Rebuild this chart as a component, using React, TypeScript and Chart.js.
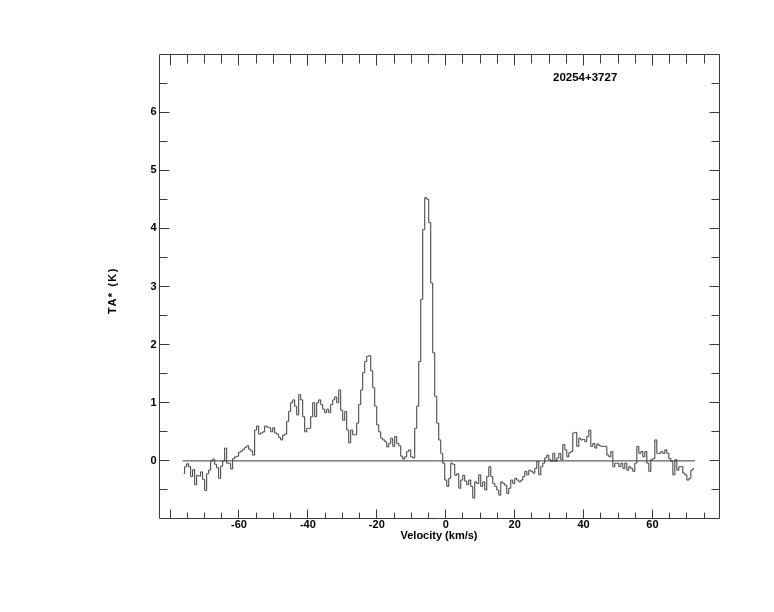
import React, { useEffect, useRef } from "react";
import { Chart, registerables } from "chart.js";

Chart.register(...registerables);

// Spectrum channels (antenna temperature, K), read left to right
const V_START = -76.34; // km/s, left edge of first channel
const CHANNEL_WIDTH = 0.5806; // km/s

const taSegment1 = [
  -0.22, -0.1, -0.05, -0.1, -0.27, -0.15, -0.41, -0.25, -0.26, -0.19,
  -0.32, -0.51, -0.22, -0.16, 0.0, 0.03, -0.06, -0.12, -0.3, -0.09,
  0.0, 0.22, -0.04, -0.04, -0.14, 0.04, 0.07, 0.08, 0.15, 0.17,
  0.2, 0.23, 0.26, 0.2, 0.17, 0.1, 0.53, 0.6, 0.46, 0.48,
  0.5, 0.6, 0.58, 0.57, 0.5, 0.57, 0.48, 0.46, 0.4, 0.36,
  0.44, 0.46, 0.68, 0.85, 1.0, 1.05,
];
const taSegment2 = [
  0.94, 0.79, 1.14, 1.05, 0.76, 0.5, 0.56, 0.56, 0.76, 1.0,
  0.76, 1.0, 1.05, 0.97, 0.89, 0.83, 0.89, 0.83, 0.97, 1.05,
  1.1, 1.0, 1.22, 0.87, 0.7, 0.85, 0.53, 0.31, 0.53, 0.45,
  0.45, 0.65, 0.97, 1.22, 1.52, 1.71, 1.8, 1.81, 1.55, 1.26,
  0.94, 0.62, 0.5, 0.39, 0.36, 0.33, 0.24, 0.3, 0.39, 0.25,
  0.42, 0.3, 0.26, 0.08, 0.03,
];
const taSegment3 = [
  0.07, 0.16, 0.19, 0.07, 0.05, 0.56, 0.94, 1.71, 2.78, 3.98,
  4.53, 4.5, 4.1, 3.06, 1.86, 1.11, 0.65, 0.36, 0.13, -0.04,
  -0.33, -0.44, -0.3, -0.04, -0.06, -0.25, -0.22, -0.47, -0.33, -0.25,
];
const taSegment4 = [
  -0.35, -0.41, -0.33, -0.44, -0.64, -0.36, -0.39, -0.24, -0.44, -0.36,
  -0.5, -0.27, -0.1, -0.27, -0.39, -0.44, -0.5, -0.59, -0.36, -0.39,
  -0.42, -0.56, -0.47, -0.33, -0.39, -0.3, -0.33, -0.36, -0.33, -0.27,
  -0.18, -0.24, -0.16, -0.18, -0.21, -0.13, -0.01, -0.24, -0.1, -0.04,
  0.05, 0.1, 0.02, -0.01, 0.13, -0.01, 0.05, 0.13, 0.02, 0.28,
  0.19, 0.07,
];
const taSegment5 = [
  0.14, 0.16, 0.48, 0.49, 0.25, 0.39, 0.36, 0.37, 0.33, 0.42,
  0.53, 0.25, 0.3, 0.22, 0.29, 0.26, 0.25, 0.25, 0.25, 0.1,
  0.07, 0.16, -0.1, -0.04, -0.04, -0.1, -0.04, -0.13, -0.04, -0.16,
  -0.1, -0.13, -0.18, -0.04, 0.25, 0.13, 0.16, 0.07, 0.16, -0.04,
  -0.18, 0.02, 0.04, 0.36, 0.13, 0.13, 0.16, 0.13, 0.19, 0.13,
  0.04, -0.01, -0.24, 0.02, -0.16, -0.1, -0.1, -0.21, -0.24, -0.33,
  -0.3, -0.16, -0.13,
];
const taValues = [...taSegment1, ...taSegment2, ...taSegment3, ...taSegment4, ...taSegment5];

const xTickValues = [-60, -40, -20, 0, 20, 40, 60];
const yTickValues = [0, 1, 2, 3, 4, 5, 6];
const X_MIN = -83.2;
const X_MAX = 79.3;
const Y_MIN = -1;
const Y_MAX = 7;
const X_MINOR = 5;
const Y_MINOR = 0.5;

const sourceName = "20254+3727";
const xTitle = "Velocity (km/s)";
const yTitle = "TA* (K)";

const FONT = "'Liberation Sans', Arial, Helvetica, sans-serif";
const INK = "#000";
const LINE = "#3a3a3a";

const crisp = (p: number) => Math.round(p - 0.5) + 0.5;

const framePlugin = {
  id: "idlFrame",
  afterDatasetsDraw(chart: any) {
    const { ctx, chartArea: a, scales } = chart;
    const xs = scales.x;
    const ys = scales.y;
    const L = crisp(a.left + 0.5);
    const R = crisp(a.right + 0.5);
    const T = crisp(a.top + 0.5);
    const B = crisp(a.bottom - 0.5);
    ctx.save();
    ctx.strokeStyle = LINE;
    ctx.lineWidth = 1;
    ctx.beginPath();
    ctx.rect(L, T, R - L, B - T);
    const i0 = Math.ceil(X_MIN / X_MINOR);
    const i1 = Math.floor(X_MAX / X_MINOR);
    for (let i = i0; i <= i1; i++) {
      const v = i * X_MINOR;
      const major = v % 20 === 0;
      const px = crisp(xs.getPixelForValue(v));
      const lb = major ? 9 : 6;
      const lt = major ? 11 : 9;
      ctx.moveTo(px, B);
      ctx.lineTo(px, B - lb);
      ctx.moveTo(px, T);
      ctx.lineTo(px, T + lt);
    }
    const j0 = Math.ceil(Y_MIN / Y_MINOR) + 1;
    const j1 = Math.floor(Y_MAX / Y_MINOR) - 1;
    for (let j = j0; j <= j1; j++) {
      const v = j * Y_MINOR;
      const major = j % 2 === 0;
      const py = crisp(ys.getPixelForValue(v));
      const len = major ? 10 : 8;
      ctx.moveTo(L, py);
      ctx.lineTo(L + len, py);
      ctx.moveTo(R, py);
      ctx.lineTo(R - len, py);
    }
    ctx.stroke();

    ctx.fillStyle = INK;
    ctx.font = `bold 11.5px ${FONT}`;
    ctx.textAlign = "left";
    ctx.textBaseline = "alphabetic";
    ctx.fillText(sourceName, a.left + 394, a.top + 27);

    // y-axis title, rotated
    ctx.save();
    ctx.translate(113, 291.5);
    ctx.rotate(-Math.PI / 2);
    ctx.font = `bold 11px ${FONT}`;
    (ctx as any).letterSpacing = "1.5px";
    ctx.textAlign = "center";
    ctx.textBaseline = "middle";
    ctx.fillText(yTitle, 1, 0);
    ctx.restore();
    ctx.restore();
  },
};

export default function App() {
  const canvasRef = useRef<HTMLCanvasElement | null>(null);

  useEffect(() => {
    const canvas = canvasRef.current;
    if (!canvas) return;
    const n = taValues.length;
    const spectrum = taValues.map((t, i) => ({ x: V_START + (i + 0.5) * CHANNEL_WIDTH, y: t }));
    const baseline = [
      { x: V_START, y: 0 },
      { x: V_START + n * CHANNEL_WIDTH, y: 0 },
    ];
    const chart = new Chart(canvas, {
      type: "line",
      data: {
        datasets: [
          {
            data: spectrum,
            borderColor: LINE,
            borderWidth: 1,
            pointRadius: 0,
            stepped: "middle",
            fill: false,
          },
          {
            data: baseline,
            borderColor: LINE,
            borderWidth: 1,
            pointRadius: 0,
            fill: false,
          },
        ],
      },
      options: {
        animation: false,
        responsive: false,
        events: [],
        layout: { padding: { top: 54, right: 55, left: 0, bottom: 0 } },
        plugins: { legend: { display: false }, tooltip: { enabled: false }, title: { display: false } },
        scales: {
          x: {
            type: "linear",
            min: X_MIN,
            max: X_MAX,
            grid: { display: false, drawTicks: false },
            border: { display: false },
            afterBuildTicks: (s: any) => {
              s.ticks = xTickValues.map((value) => ({ value }));
            },
            afterFit: (s: any) => {
              s.height = 93;
            },
            ticks: {
              color: INK,
              padding: 0,
              maxRotation: 0,
              autoSkip: false,
              font: { family: FONT, size: 11, weight: "bold", lineHeight: 1 },
              callback: (v: any) => String(v),
            },
            title: {
              display: true,
              text: xTitle,
              color: INK,
              font: { family: FONT, size: 11, weight: "bold", lineHeight: 1 },
              padding: { top: 0, bottom: 70.5 },
            },
          },
          y: {
            type: "linear",
            min: Y_MIN,
            max: Y_MAX,
            grid: { display: false, drawTicks: false },
            border: { display: false },
            afterBuildTicks: (s: any) => {
              s.ticks = yTickValues.map((value) => ({ value }));
            },
            afterFit: (s: any) => {
              s.width = 159;
            },
            ticks: {
              color: INK,
              padding: 2.5,
              autoSkip: false,
              font: { family: FONT, size: 11, weight: "bold", lineHeight: 1 },
              callback: (v: any) => String(v),
            },
            title: { display: false },
          },
        },
      },
      plugins: [framePlugin],
    });
    return () => chart.destroy();
  }, []);

  return (
    <div style={{ position: "fixed", left: 0, top: 0, width: 774, height: 612, background: "#fff" }}>
      <canvas ref={canvasRef} width={774} height={612} style={{ width: 774, height: 612 }} />
    </div>
  );
}
